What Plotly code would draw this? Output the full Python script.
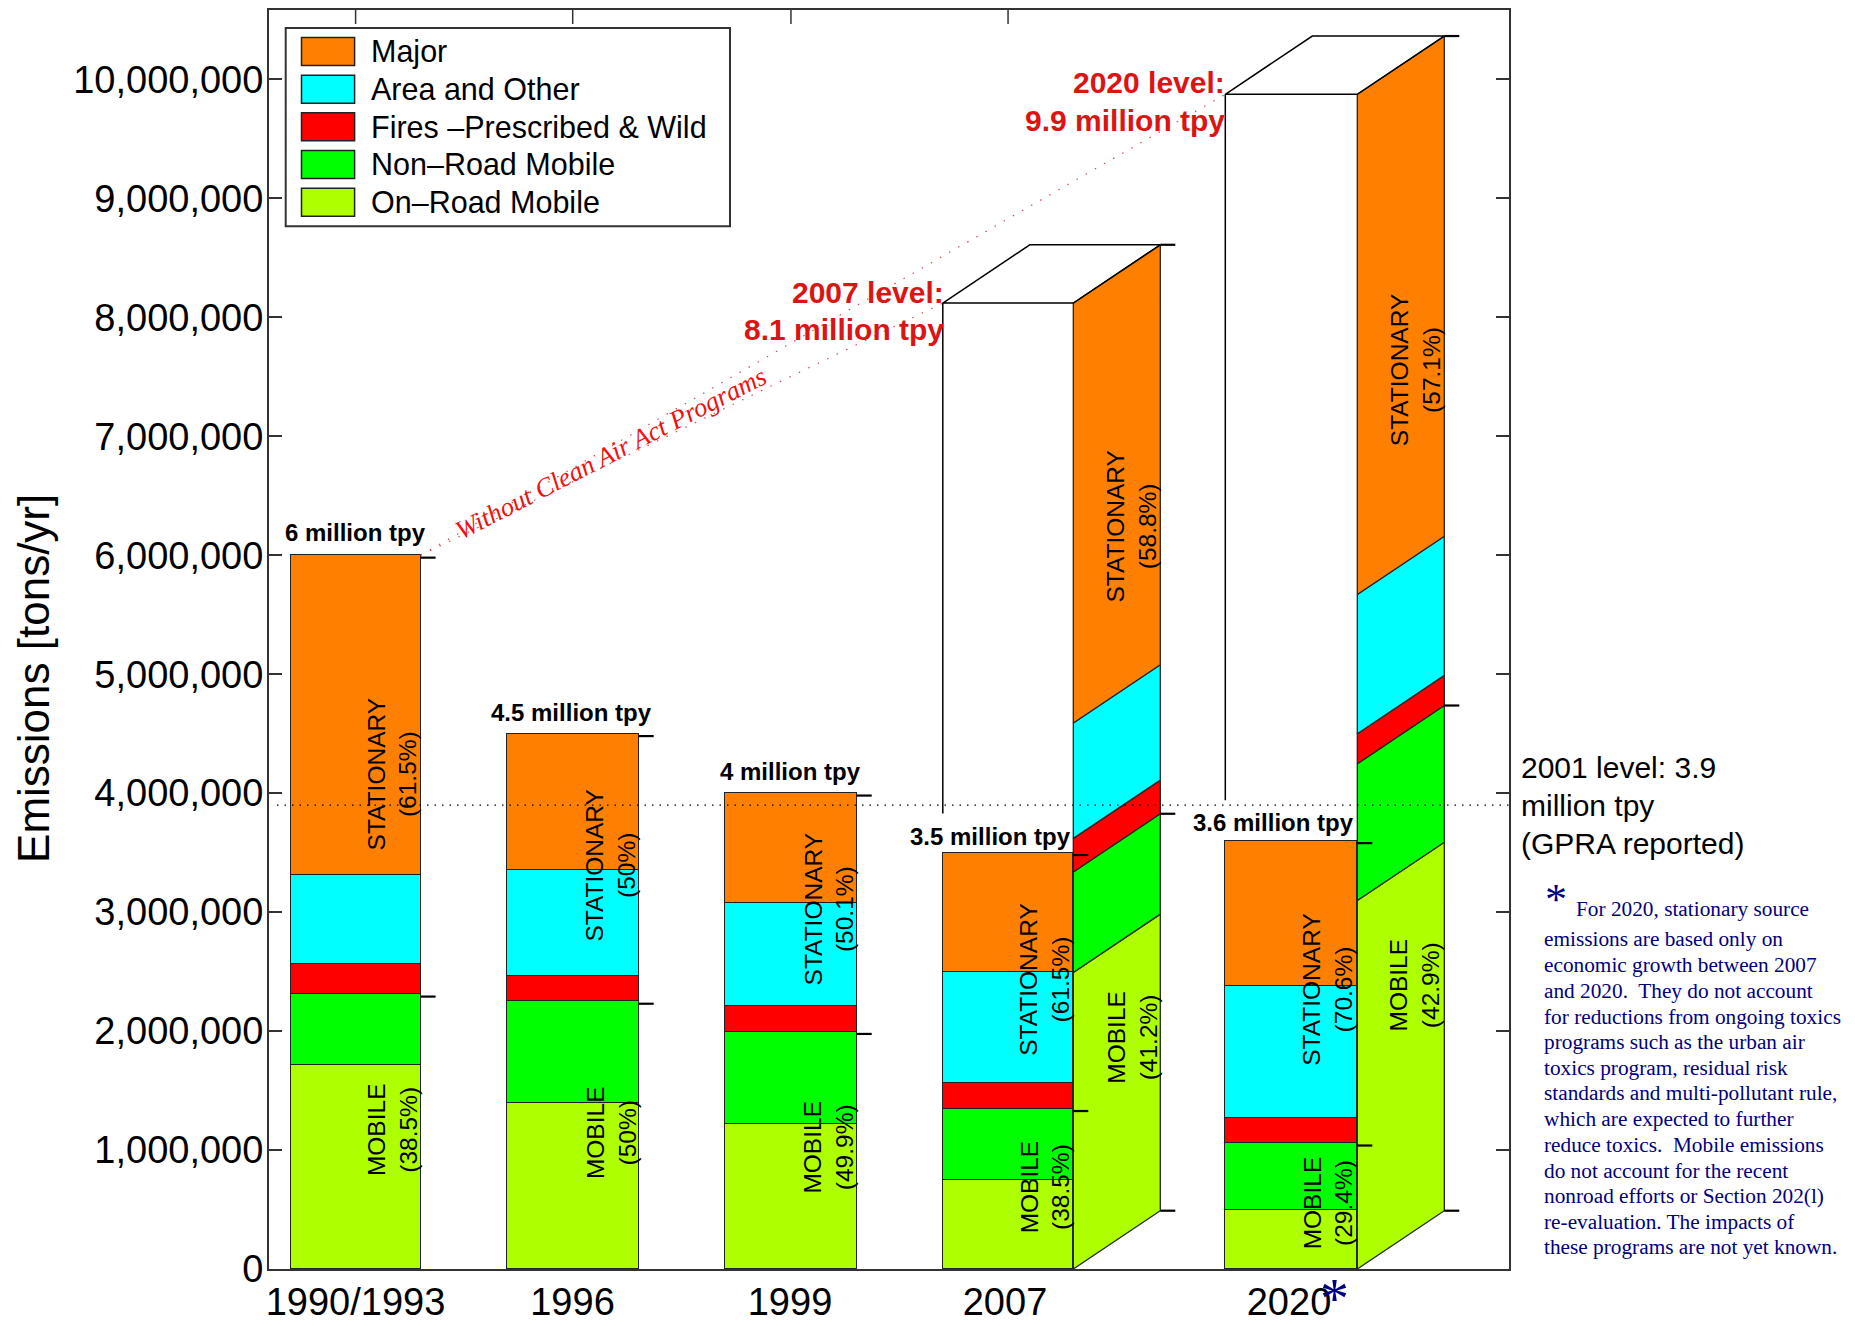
import plotly.graph_objects as go

# ---- data (tons per year) ----
years = ["1990/1993", "1996", "1999", "2007", "2020"]
series_names = ["On\u2013Road Mobile", "Non\u2013Road Mobile", "Fires \u2013Prescribed & Wild", "Area and Other", "Major"]
on_road = [1712000, 1393000, 1216000, 746000, 494000]
non_road = [598000, 857000, 780000, 602000, 564000]
fires = [250000, 210000, 212000, 213000, 211000]
area_other = [755000, 893000, 869000, 932000, 1107000]
major = [2685000, 1147000, 923000, 1007000, 1224000]

# growth scenario (no Clean Air Act programs) for 2007 and 2020
scenario_years = ["2007", "2020"]
sc_on_road = [2493000, 3098000]
sc_non_road = [844000, 1149000]
sc_fires = [283000, 253000]
sc_area_other = [970000, 1170000]
sc_major = [3530000, 4205000]

level_2001 = 3900000
y_ticks = [0, 1000000, 2000000, 3000000, 4000000, 5000000, 6000000, 7000000, 8000000, 9000000, 10000000]
bar_labels = ["6 million tpy", "4.5 million tpy", "4 million tpy", "3.5 million tpy", "3.6 million tpy"]
front_share = [("61.5%", "38.5%"), ("50%", "50%"), ("50.1%", "49.9%"), ("61.5%", "38.5%"), ("70.6%", "29.4%")]
side_share = [("58.8%", "41.2%"), ("57.1%", "42.9%")]
note_lines = [
    "For 2020, stationary source",
    "emissions are based only on",
    "economic growth between 2007",
    "and 2020.\u00a0 They do not account",
    "for reductions from ongoing toxics",
    "programs such as the urban air",
    "toxics program, residual risk",
    "standards and multi-pollutant rule,",
    "which are expected to further",
    "reduce toxics.\u00a0 Mobile emissions",
    "do not account for the recent",
    "nonroad efforts or Section 202(l)",
    "re-evaluation. The impacts of",
    "these programs are not yet known.",
]

# ---- layout geometry ----
W, H = 1855, 1326
L, R, T, B = 269, 1509, 9.5, 1269.5
Y_SCALE = 119.05 / 1e6          # pixels per ton
Y_MAX = (B - T) / Y_SCALE
BAR_LEFT = [290.6, 506.7, 725.2, 942.8, 1225.3]
BAR_W = [130, 132, 131.5, 130.5, 132]
BAR_X = [b + w / 2 for b, w in zip(BAR_LEFT, BAR_W)]
TICK_X = [355.5, 572.5, 790, 1005, 1289]
DEPTH_X = 87
DEPTH_Y = 490000
STUB = 15
STUB_DROP = 20000
SC_CUT = [3830000, 3940000]     # scenario box outline stops above the base bar's label
SANS = "Liberation Sans"
SERIF = "Liberation Serif"
OUTLINE = "#222222"
colors = ["#AEFF00", "#00FF00", "#FF0000", "#00FFFF", "#FF8000"]
stack = [on_road, non_road, fires, area_other, major]
sc_stack = [sc_on_road, sc_non_road, sc_fires, sc_area_other, sc_major]


def py(pixel_y):
    """Pixel row on the page to a paper coordinate."""
    return (B - pixel_y) / (B - T)


def px(pixel_x):
    """Pixel column on the page to a paper coordinate."""
    return (pixel_x - L) / (R - L)


fig = go.Figure()

# front bars
for name, vals, col in zip(series_names, stack, colors):
    fig.add_bar(x=BAR_X, y=vals, width=BAR_W, name=name, marker=dict(color=col, line=dict(color=OUTLINE, width=1.3)))

# side faces of the projected 2007 and 2020 totals
for i in range(len(scenario_years)):
    xl = BAR_LEFT[3 + i] + BAR_W[3 + i]
    base = 0
    for j, col in zip(range(5), colors):
        top = base + sc_stack[j][i]
        fig.add_scatter(
            x=[xl, xl + DEPTH_X, xl + DEPTH_X, xl, xl],
            y=[base, base + DEPTH_Y, top + DEPTH_Y, top, base],
            mode="lines", fill="toself", fillcolor=col, line=dict(color=OUTLINE, width=1.3),
        )
        base = top
    # open front and top of the projected box
    xf = BAR_LEFT[3 + i]
    fig.add_scatter(
        x=[xf, xf, xf + DEPTH_X, xl + DEPTH_X, xl, xf],
        y=[SC_CUT[i], base, base + DEPTH_Y, base + DEPTH_Y, base, base],
        mode="lines", line=dict(color="black", width=1.5),
    )

# short marks beside each bar at the total and at the mobile subtotal
for i in range(5):
    xr = BAR_LEFT[i] + BAR_W[i]
    total = sum(s[i] for s in stack)
    mobile = on_road[i] + non_road[i]
    for v in (total, mobile):
        fig.add_scatter(x=[xr, xr + STUB], y=[v - STUB_DROP, v - STUB_DROP], mode="lines", line=dict(color="black", width=2.2))
for i in range(2):
    xr = BAR_LEFT[3 + i] + BAR_W[3 + i] + DEPTH_X
    total = sum(s[i] for s in sc_stack)
    mobile = sc_on_road[i] + sc_non_road[i]
    for v in (total, mobile, 0):
        fig.add_scatter(x=[xr, xr + STUB], y=[v + DEPTH_Y, v + DEPTH_Y], mode="lines", line=dict(color="black", width=2.2))

# dotted trend lines from the first total up to the projections
x_start = BAR_LEFT[0] + BAR_W[0]
y_start = sum(s[0] for s in stack)
for i in range(2):
    fig.add_scatter(
        x=[x_start, BAR_LEFT[3 + i]], y=[y_start, sum(s[i] for s in sc_stack)],
        mode="lines", line=dict(color="#C85050", width=1.2, dash="1.5px,9px"),
    )

# 2001 reference level
fig.add_scatter(x=[277, R], y=[level_2001, level_2001], mode="lines", line=dict(color="black", width=1.3, dash="1.5px,6px"))

notes = []


def text(x, y, s, size, color="black", family=SANS, anchor="center", angle=0):
    notes.append(dict(
        x=px(x), y=py(y), xref="paper", yref="paper", text=s, showarrow=False, xanchor=anchor, yanchor="middle",
        textangle=angle, font=dict(family=family, size=size, color=color), align="center",
    ))


# totals above bars
label_xy = [(355, 532.7), (571.6, 713), (790, 772), (990.7, 836.5), (1273, 823)]
for (x, y), s in zip(label_xy, bar_labels):
    text(x, y, f"<b>{s}</b>", 24)

# rotated share labels
st_xy = [(392.5, 775), (611, 865.7), (829, 909.6), (1045, 980), (1328, 990)]
mo_xy = [(392.5, 1130), (611, 1133.5), (829, 1148), (1045, 1187.8), (1328, 1203.8)]
for (x, y), share in zip(st_xy, front_share):
    text(x, y, f"STATIONARY<br>({share[0]})", 24.5, angle=-90)
for (x, y), share in zip(mo_xy, front_share):
    text(x, y, f"MOBILE<br>({share[1]})", 24.5, angle=-90)
sc_st_xy = [(1132, 526.5), (1415, 370)]
sc_mo_xy = [(1133, 1038), (1415, 985.8)]
for (x, y), share in zip(sc_st_xy, side_share):
    text(x, y, f"STATIONARY<br>({share[0]})", 24.5, angle=-90)
for (x, y), share in zip(sc_mo_xy, side_share):
    text(x, y, f"MOBILE<br>({share[1]})", 24.5, angle=-90)

# projected level callouts
RED = "#DC1414"
text(946, 292, "<b>2007 level:</b>", 30, RED, anchor="right")
text(946, 329, "<b>8.1 million tpy</b>", 30, RED, anchor="right")
text(1227, 82, "<b>2020 level:</b>", 30, RED, anchor="right")
text(1227, 120, "<b>9.9 million tpy</b>", 30, RED, anchor="right")
text(611, 453, "<i>Without Clean Air Act Programs</i>", 26.5, "#F01010", SERIF, angle=-27.2)

# 2001 level caption
for y, s in zip([768, 806, 844], ["2001 level: 3.9", "million tpy", "(GPRA reported)"]):
    text(1518.5, y, s, 30, anchor="left")

# footnote
NAVY = "#000080"
note_y = [909.6, 939.5, 965.5, 991.4, 1017, 1042.5, 1068, 1093, 1119, 1145, 1171, 1196, 1222, 1247.7]
for k, (y, s) in enumerate(zip(note_y, note_lines)):
    text(1573.5 if k == 0 else 1541.8, y, s, 21.3, NAVY, SERIF, anchor="left")
text(1555.5, 900, "*", 44, NAVY, SERIF)
text(1334, 1299, "*", 58, NAVY, SERIF)

# y-axis title
text(34, 679, "Emissions [tons/yr]", 44, angle=-90)

# legend box, drawn top to bottom
shapes = [dict(type="rect", xref="paper", yref="paper", x0=px(285.7), x1=px(730), y0=py(27.5), y1=py(225.8),
               line=dict(color="#333333", width=2), fillcolor="white", layer="above")]
for k in range(5):
    idx = 4 - k
    top = 37 + 37.7 * k
    shapes.append(dict(type="rect", xref="paper", yref="paper", x0=px(301.5), x1=px(354.6), y0=py(top), y1=py(top + 28),
                       line=dict(color="#222222", width=1.5), fillcolor=colors[idx], layer="above"))
    text(368.5, top + 14, series_names[idx], 30.5, anchor="left")

# top-edge ticks for the historical and 2007 columns
for x in BAR_X[:4]:
    shapes.append(dict(type="line", xref="x", yref="paper", x0=x, x1=x, y0=1, y1=1 - 14 / (B - T),
                       line=dict(color="#333333", width=1.5)))

fig.update_layout(
    width=W, height=H, autosize=False, barmode="stack", bargap=0, showlegend=False,
    margin=dict(l=L, r=W - R, t=T, b=H - B, pad=0),
    paper_bgcolor="white", plot_bgcolor="white", annotations=notes, shapes=shapes, hovermode=False,
    xaxis=dict(range=[L, R], tickmode="array", tickvals=TICK_X, ticktext=years, ticks="", showgrid=False, zeroline=False,
               showline=True, linecolor="#333333", linewidth=2, mirror=True, automargin=False, ticklabelstandoff=-2,
               tickfont=dict(family=SANS, size=38, color="black")),
    yaxis=dict(range=[0, Y_MAX], tickmode="array", tickvals=y_ticks, tickformat=",", ticks="inside", ticklen=13, tickwidth=1.5,
               tickcolor="#333333", showgrid=False, zeroline=False, showline=True, linecolor="#333333", linewidth=2,
               mirror="ticks", automargin=False, ticklabelstandoff=-4, tickfont=dict(family=SANS, size=38, color="black")),
)

fig.write_html("out.html", config=dict(displayModeBar=False))
